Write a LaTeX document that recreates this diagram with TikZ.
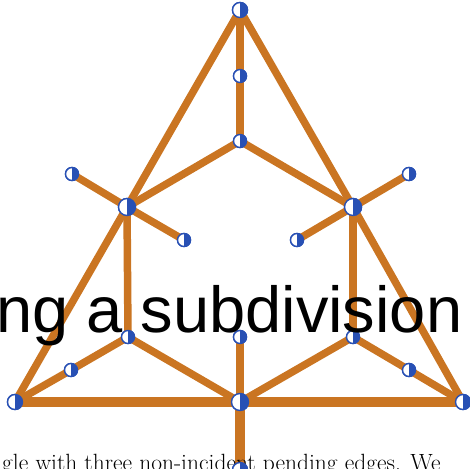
\documentclass[tikz,border=0pt]{standalone}
\usepackage{fontspec}
\newfontfamily\arialfont{Liberation Sans}
\definecolor{edgeor}{RGB}{202,117,34}
\definecolor{vblue}{RGB}{40,80,180}
\begin{document}
\begin{tikzpicture}[x=1pt,y=-1pt,
  vtx/.style={circle,draw=vblue,line width=1.4pt,fill=white,inner sep=0pt,minimum size=#1,
    path picture={\fill[vblue] (path picture bounding box.north) rectangle (path picture bounding box.south east);}},
  vtx/.default=13pt,
  edg/.style={draw=edgeor,line width=7.5pt},
  bedg/.style={draw=edgeor,line width=9.5pt}]
\useasboundingbox (0,0) rectangle (470,468);
\clip (0,0) rectangle (470,468);
% vertices
\node[vtx=15pt] (T) at (240,10) {};
\node[vtx] (TM) at (240,76) {};
\node[vtx] (I) at (240,141) {};
\node[vtx=17pt] (L) at (127,207) {};
\node[vtx=17pt] (R) at (353,207) {};
\node[vtx] (LU) at (72,174) {};
\node[vtx] (LD) at (184,240) {};
\node[vtx] (RU) at (409,174) {};
\node[vtx] (RD) at (297,240) {};
\node[vtx] (LLI) at (128,337) {};
\node[vtx] (LM) at (240,337) {};
\node[vtx] (LRI) at (353,337) {};
\node[vtx] (LBP) at (71,370) {};
\node[vtx] (RBP) at (409,370) {};
\node[vtx=15pt] (BL) at (15,402) {};
\node[vtx=17pt] (BM) at (240,402) {};
\node[vtx=15pt] (BR) at (463,402) {};
\node[vtx=15pt] (BP) at (240,470) {};
% edges
\path[edg] (T.center) -- (L.center) -- (BL.center);
\path[edg] (T.center) -- (R.center) -- (BR.center);
\path[bedg] (BL.center) -- (BM.center) -- (BR.center);
\path[edg] (T.center) -- (TM.center) -- (I.center);
\path[edg] (I.center) -- (L.center);
\path[edg] (I.center) -- (R.center);
\path[edg] (L.center) -- (LU.center);
\path[edg] (L.center) -- (LD.center);
\path[edg] (R.center) -- (RU.center);
\path[edg] (R.center) -- (RD.center);
\path[edg] (L.center) -- (LLI.center);
\path[edg] (R.center) -- (LRI.center);
\path[edg] (LLI.center) -- (LBP.center) -- (BL.center);
\path[edg] (LRI.center) -- (RBP.center) -- (BR.center);
\path[edg] (LLI.center) -- (BM.center);
\path[edg] (LRI.center) -- (BM.center);
\path[edg] (LM.center) -- (BM.center);
\path[bedg] (BM.center) -- (BP.center);
% caption (below the vertices)
\node[anchor=base west,inner sep=0pt,font=\fontsize{23.5}{26}\selectfont] (caption) at (2,470) {gle with three non-incident pending edges. We};
% redraw vertices on top
\foreach \n/\s in {T/15pt,TM/13pt,I/13pt,L/17pt,R/17pt,LU/13pt,LD/13pt,RU/13pt,RD/13pt,LLI/13pt,LM/13pt,LRI/13pt,LBP/13pt,RBP/13pt,BL/15pt,BM/17pt,BR/15pt,BP/15pt}
  \node[vtx=\s] at (\n) {};
% title
\node[anchor=base west,inner sep=0pt,font=\arialfont\fontsize{65}{70}\selectfont] (title) at (-4,332) {ng a subdivision};
\end{tikzpicture}
\end{document}
